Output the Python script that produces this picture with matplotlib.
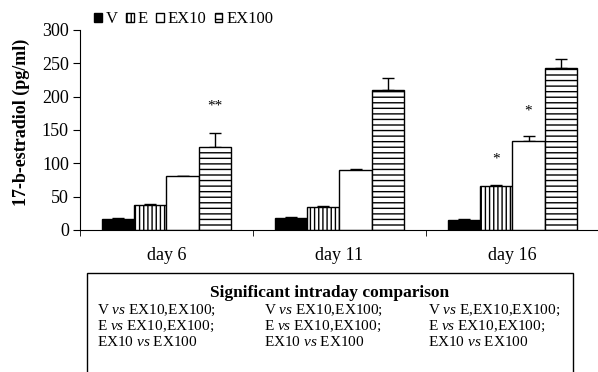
import numpy as np
import matplotlib.pyplot as plt
from matplotlib.patches import Rectangle

plt.rcParams['font.family'] = 'Liberation Serif'
plt.rcParams['mathtext.fontset'] = 'custom'
plt.rcParams['mathtext.rm'] = 'Liberation Serif'
plt.rcParams['mathtext.it'] = 'Liberation Serif:italic'
plt.rcParams['hatch.linewidth'] = 1.0

days = ['day 6', 'day 11', 'day 16']
groups = ['V', 'E', 'EX10', 'EX100']
V = [16, 18, 15.5]
V_err = [1.5, 1.5, 1.5]
E = [37.5, 34, 66]
E_err = [1.5, 2, 1.5]
EX10 = [81, 90, 134]
EX10_err = [0, 1.5, 7.5]
EX100 = [125, 210, 243]
EX100_err = [20, 17.5, 14]

# asterisks: (day index, group index, height, label)
stars = [(0, 3, 186, '**'), (2, 1, 106, '*'), (2, 2, 179, '*')]

comparisons = [
    ['V $\\mathit{vs}$ EX10,EX100;', 'E $\\mathit{vs}$ EX10,EX100;', 'EX10 $\\mathit{vs}$ EX100'],
    ['V $\\mathit{vs}$ EX10,EX100;', 'E $\\mathit{vs}$ EX10,EX100;', 'EX10 $\\mathit{vs}$ EX100'],
    ['V $\\mathit{vs}$ E,EX10,EX100;', 'E $\\mathit{vs}$ EX10,EX100;', 'EX10 $\\mathit{vs}$ EX100'],
]

fig = plt.figure(figsize=(5.98, 3.72), dpi=100)
ax = fig.add_axes([80/598, 1-230/372, 519/598, 200/372])

x = np.arange(len(days))
w = 0.185
vals = [V, E, EX10, EX100]
errs = [V_err, E_err, EX10_err, EX100_err]
fills = ['black', 'white', 'white', 'white']
hatches = [None, '||||', None, '---']
for i in range(4):
    pos = x + (i - 1.5) * w
    ax.bar(pos, vals[i], w, color=fills[i], edgecolor='black', linewidth=1,
           hatch=hatches[i], label=groups[i], zorder=2)
    ax.errorbar(pos, vals[i], yerr=[np.zeros(3), errs[i]], fmt='none',
                ecolor='black', elinewidth=1, capsize=4, capthick=1, zorder=1)

for d, g, h, s in stars:
    ax.text(x[d] + (g - 1.5) * w, h, s, ha='center', va='center', fontsize=11)

ax.set_xlim(-0.5, 2.5)
ax.set_ylim(0, 300)
ax.set_yticks(range(0, 301, 50))
ax.set_xticks(x)
ax.set_xticklabels(days)
ax.set_xticks(np.arange(-0.5, 2.6, 1), minor=True)
ax.tick_params(axis='x', which='major', length=0, pad=12, labelsize=13)
ax.tick_params(axis='x', which='minor', length=4, direction='out')
ax.tick_params(axis='y', length=5, direction='out', labelsize=13, pad=3)
ax.spines['top'].set_visible(False)
ax.spines['right'].set_visible(False)
ax.set_ylabel('17-b-estradiol (pg/ml)', fontsize=13, fontweight='bold')
ax.yaxis.set_label_coords(-0.097, 0.54)

leg = fig.legend(loc='center left', bbox_to_anchor=(94/598, 1-19/372), ncol=4,
                 frameon=False, fontsize=12, handlelength=0.45, handleheight=0.45,
                 handletextpad=0.25, columnspacing=0.5, borderaxespad=0, borderpad=0)

# comparison box
box = Rectangle((87/598, -0.05), (573-87)/598, 1-273/372+0.05, transform=fig.transFigure,
                fill=False, edgecolor='black', linewidth=1)
fig.patches.append(box)
fig.text(0.5 * (87+573)/598, 1-293/372, 'Significant intraday comparison',
         ha='center', va='center', fontsize=12.5, fontweight='bold')
colx = [97, 264, 428]
rowy = [310, 326, 342]
for c in range(3):
    for r in range(3):
        fig.text(colx[c]/598, 1-rowy[r]/372, comparisons[c][r],
                 ha='left', va='center', fontsize=11)

fig.savefig('out.png', dpi=100)
